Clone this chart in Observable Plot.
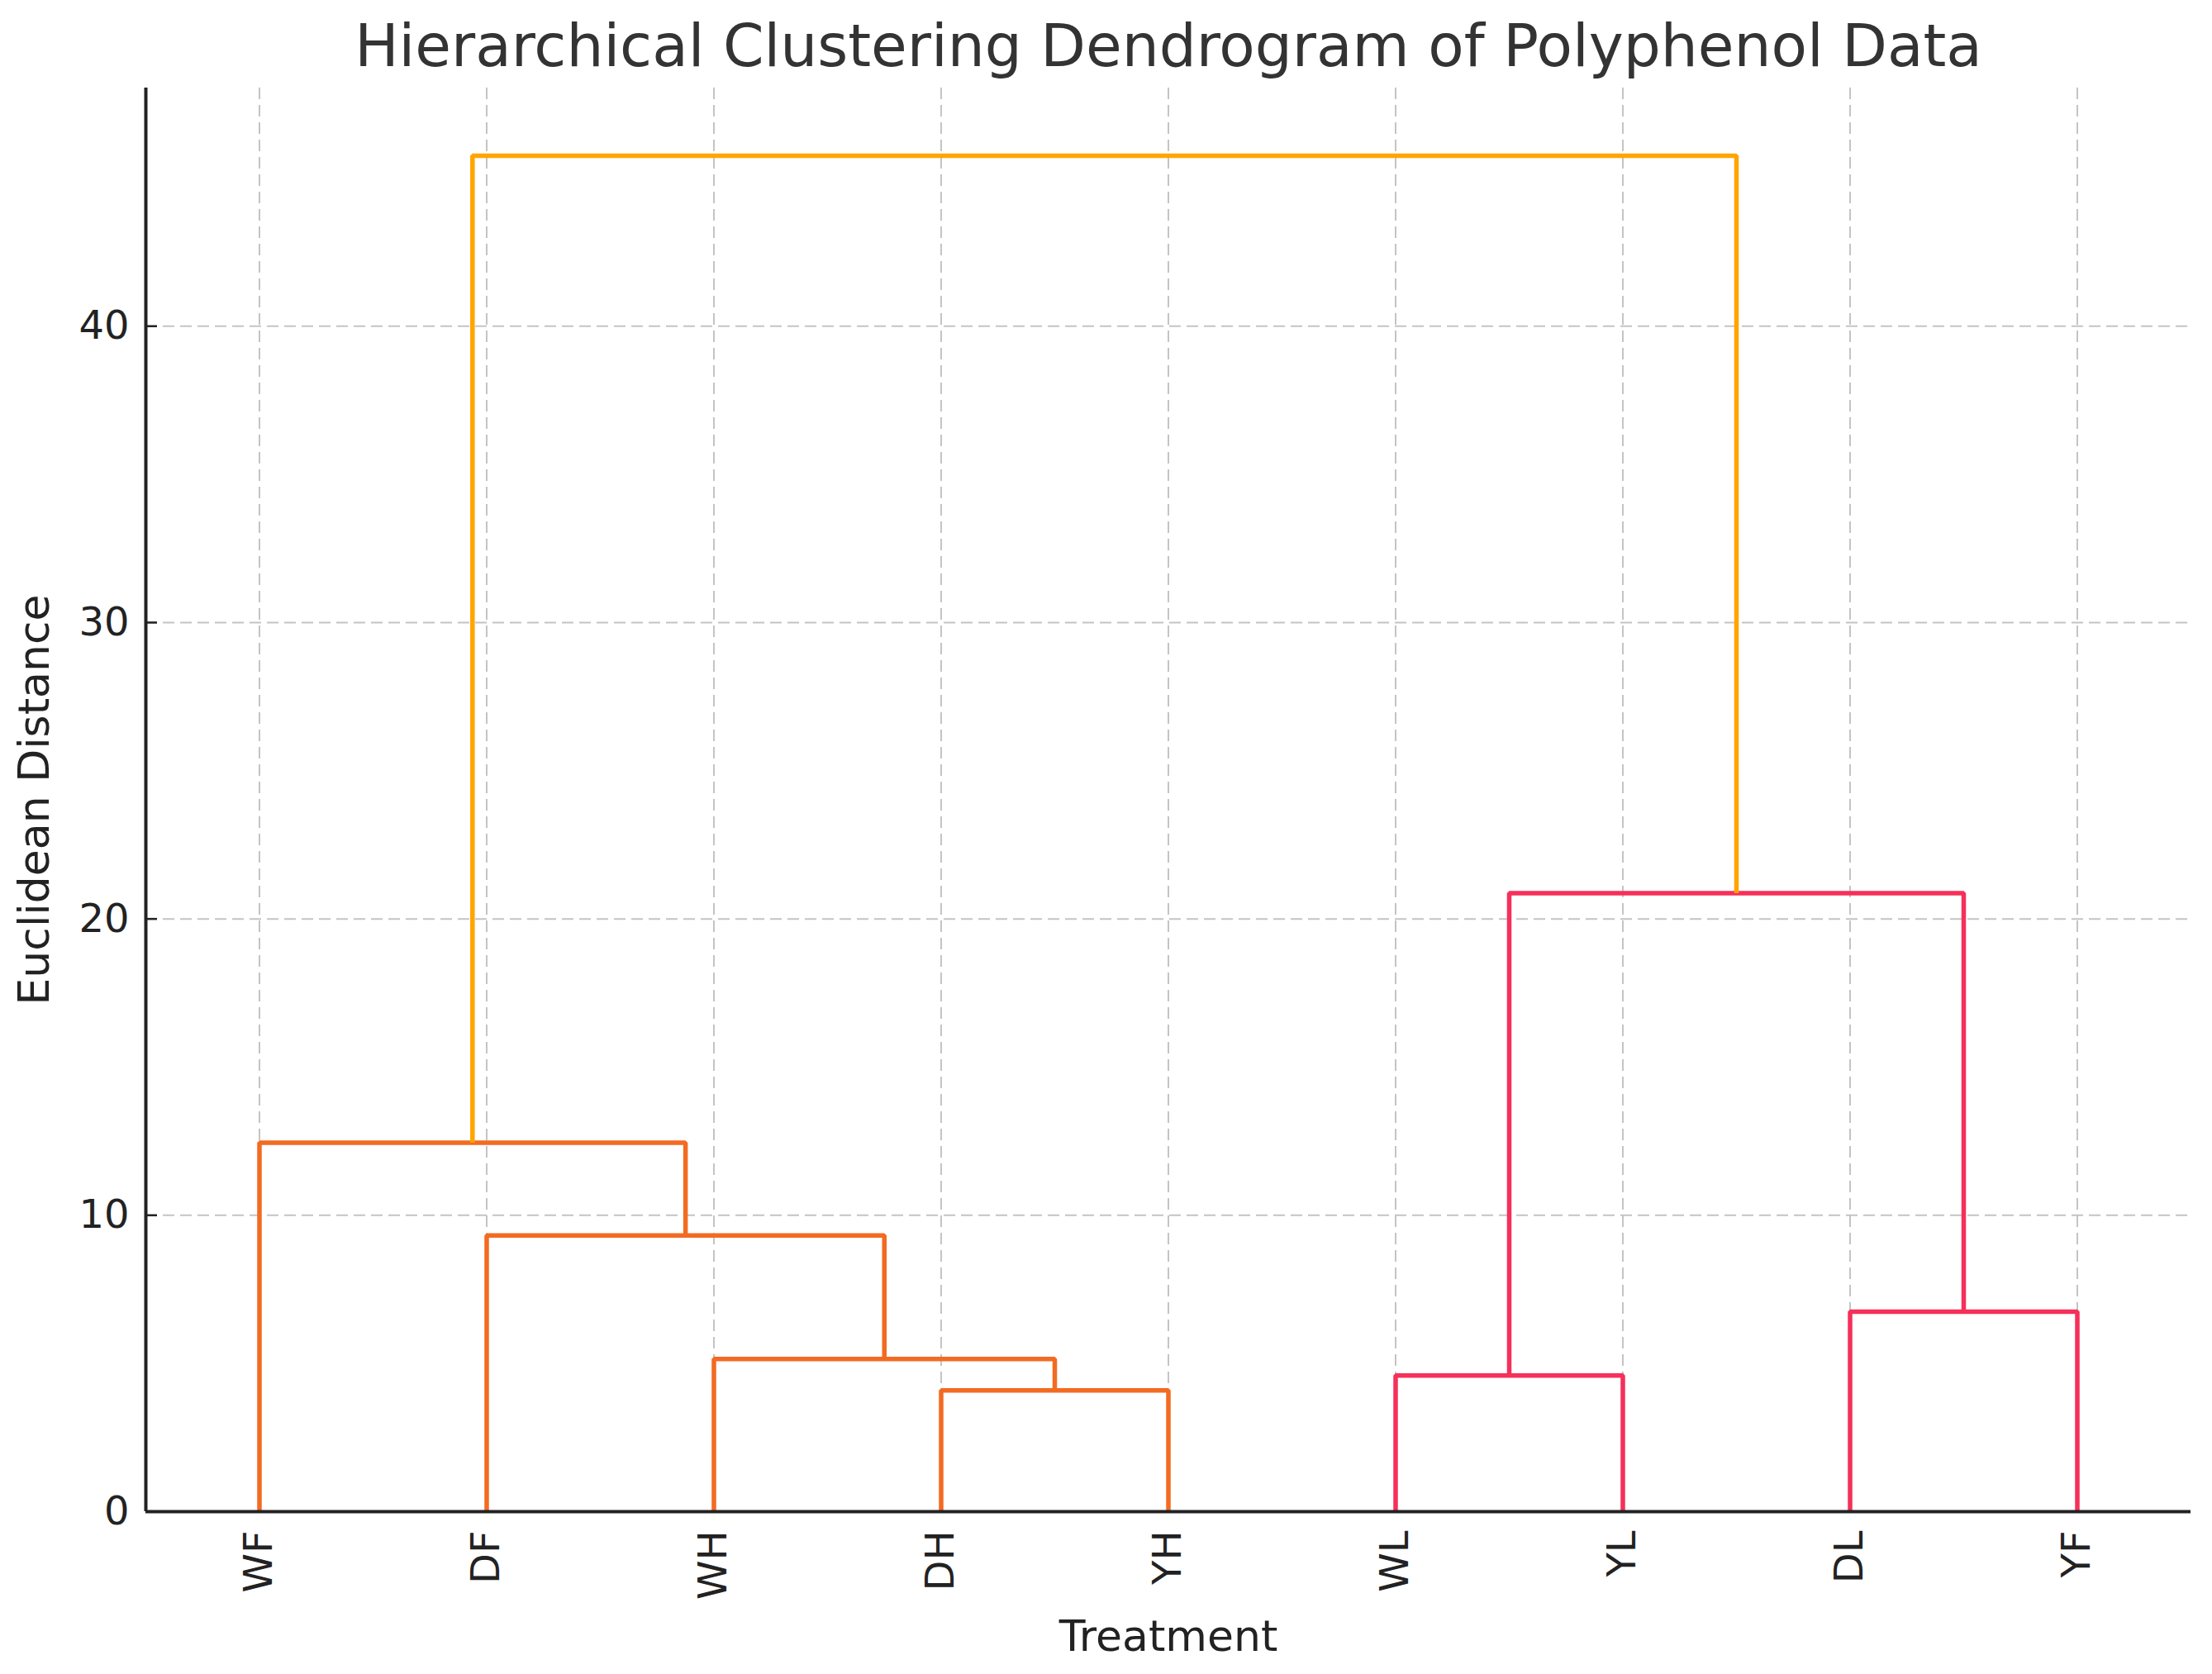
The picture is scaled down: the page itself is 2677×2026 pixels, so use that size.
<!DOCTYPE html>
<html>
<head>
<meta charset="utf-8">
<script src="https://cdn.jsdelivr.net/npm/d3@7"></script>
<script src="https://cdn.jsdelivr.net/npm/@observablehq/plot@0.6"></script>
<style>
  html, body { margin: 0; padding: 0; background: #fff; }
  svg { display: block; }
</style>
</head>
<body>
<div id="chart"></div>
<script>
// ---- Data ----
const leaves = ["WF", "DF", "WH", "DH", "YH", "WL", "YL", "DL", "YF"];
// Linkage rows: index < 9 is a leaf, index >= 9 is an earlier merge (9 + row)
const mergeLeft   = [3, 5, 2, 7, 1, 0, 10, 14];
const mergeRight  = [4, 6, 9, 8, 11, 13, 12, 15];
const mergeHeight = [4.09, 4.59, 5.15, 6.75, 9.32, 12.45, 20.87, 45.75];
const mergeGroup  = ["C1", "C2", "C1", "C2", "C1", "C1", "C2", "root"];
const yTicks = [0, 10, 20, 30, 40];
const groupNames  = ["C1", "C2", "root"];
const groupColors = ["#f26b22", "#f5305a", "#ffa500"];

const titleText = "Hierarchical Clustering Dendrogram of Polyphenol Data";
const xLabel = "Treatment";
const yLabel = "Euclidean Distance";

// ---- Build dendrogram links (scipy-style leaf coordinates 5, 15, 25, ...) ----
const pos = leaves.map((_, i) => 5 + 10 * i);
const leafPos = pos.slice();
const hgt = leaves.map(() => 0);
const segs = [];
mergeLeft.forEach((l, k) => {
  const r = mergeRight[k], h = mergeHeight[k];
  const xl = pos[l], xr = pos[r];
  [[xl, hgt[l]], [xl, h], [xr, h], [xr, hgt[r]]].forEach(([x, y], j) =>
    segs.push({id: k, x, y, group: mergeGroup[k], order: j}));
  pos[leaves.length + k] = (xl + xr) / 2;
  hgt[leaves.length + k] = h;
});
const maxH = d3.max(mergeHeight);

const chart = Plot.plot({
  width: 2677,
  height: 2026,
  marginLeft: 176,
  marginRight: 26,
  marginTop: 106,
  marginBottom: 197,
  style: {fontFamily: "DejaVu Sans", fontSize: "48px", color: "#222", background: "#fff"},
  x: {domain: [0, 10 * leaves.length]},
  y: {domain: [0, maxH * 1.05]},
  color: {domain: groupNames, range: groupColors},
  marks: [
    Plot.gridX(leafPos, {stroke: "#c4c4c4", strokeOpacity: 1, strokeWidth: 2, strokeDasharray: "14,7"}),
    Plot.gridY(yTicks, {stroke: "#c4c4c4", strokeOpacity: 1, strokeWidth: 2, strokeDasharray: "14,7"}),
    Plot.line(segs, {x: "x", y: "y", z: "id", stroke: "group", strokeWidth: 5.5,
      strokeLinejoin: "miter", strokeLinecap: "butt"}),
    Plot.ruleX([0], {stroke: "#222", strokeWidth: 4}),
    Plot.ruleY([0], {stroke: "#222", strokeWidth: 4}),
    // inward ticks on y
    Plot.axisY(yTicks, {tickSize: 14, dx: 14, fill: "none", stroke: "#222", strokeWidth: 2.5, label: null}),
    // y tick labels
    Plot.axisY(yTicks, {tickSize: 0, tickPadding: 20, fontSize: 48, fill: "#222", label: null}),
    // x tick labels
    Plot.axisX(leafPos, {tickSize: 0, tickPadding: 23, tickRotate: -90, fontSize: 48, fill: "#222",
      tickFormat: (d) => leaves[leafPos.indexOf(d)], label: null}),
    Plot.text([yLabel], {frameAnchor: "left", textAnchor: "middle", lineAnchor: "middle",
      rotate: -90, dx: -134, fontSize: 52, fill: "#222"}),
    Plot.text([xLabel], {frameAnchor: "bottom", textAnchor: "middle", lineAnchor: "middle",
      dy: 152, fontSize: 52, fill: "#222"}),
    Plot.text([titleText], {frameAnchor: "top", textAnchor: "middle", lineAnchor: "middle",
      dy: -49, fontSize: 71, fill: "#333"})
  ]
});
document.getElementById("chart").appendChild(chart);
</script>
</body>
</html>
